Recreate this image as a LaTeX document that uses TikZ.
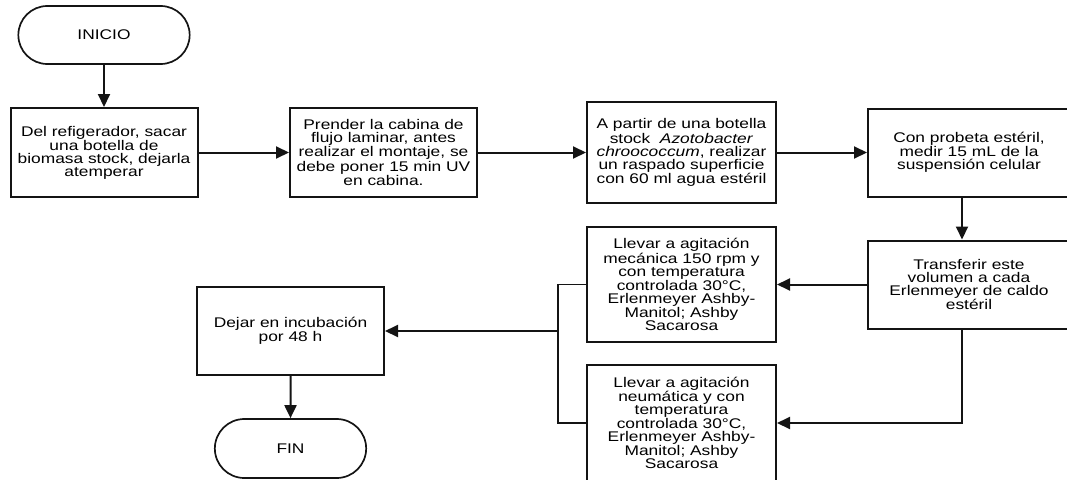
\documentclass[tikz,border=0pt]{standalone}
\usepackage{fontspec}
\setmainfont[FakeStretch=1.24]{Liberation Sans}
\usepackage{tikz}
\usetikzlibrary{arrows.meta,shapes.misc,positioning}
\usepackage{xcolor}
\definecolor{fcline}{RGB}{20,20,20}
\tikzstyle{paso} = [draw=fcline, line width=2pt, rectangle, align=center, inner sep=2pt, font=\fontsize{14}{13}\selectfont]
\tikzstyle{terminal} = [draw=fcline, line width=1.7pt, rounded rectangle, align=center, font=\fontsize{14}{13}\selectfont]
\tikzstyle{arrow} = [line width=2pt, color=fcline, -{Triangle[length=13pt,width=12pt]}]
\tikzstyle{linea} = [line width=1.8pt, color=fcline]

\begin{document}
\begin{tikzpicture}[x=1pt, y=-1pt]
\useasboundingbox (0,0) rectangle (1067,479);
\clip (0,0) rectangle (1067,479);

% Inicio
\node[terminal, minimum width=178, minimum height=58] (inicio) at (104,35) {INICIO};

% Fila superior
\node[paso, minimum width=187, minimum height=89] (paso1) at (104,152.5) {Del refigerador, sacar\\una botella de\\biomasa stock, dejarla\\atemperar};
\node[paso, minimum width=187, minimum height=89] (paso2) at (383.5,152.5) {Prender la cabina de\\flujo laminar, antes\\realizar el montaje, se\\debe poner 15 min UV\\en cabina.};
\node[paso, minimum width=189, minimum height=101] (paso3) at (681.5,152.5) {A partir de una botella\\stock \ \textit{Azotobacter}\\\textit{chroococcum}, realizar\\un raspado superficie\\con 60 ml agua estéril};
\node[paso, minimum width=202, minimum height=88] (paso4) at (969,152.5) {Con probeta estéril,\\medir 15 mL de la\\suspensión celular};

% Columna derecha
\node[paso, minimum width=202, minimum height=88] (paso5) at (969,284.5) {Transferir este\\volumen a cada\\Erlenmeyer de caldo\\estéril};

% Agitacion
\node[paso, minimum width=189, minimum height=115] (paso6) at (681.5,284.5) {Llevar a agitación\\mecánica 150 rpm y\\con temperatura\\controlada 30°C,\\Erlenmeyer Ashby-\\Manitol; Ashby\\Sacarosa};
\node[paso, minimum width=189, minimum height=116] (paso7) at (681.5,423) {Llevar a agitación\\neumática y con\\temperatura\\controlada 30°C,\\Erlenmeyer Ashby-\\Manitol; Ashby\\Sacarosa};

% Incubacion y fin
\node[paso, minimum width=187, minimum height=88] (paso8) at (290.5,331) {Dejar en incubación\\por 48 h};
\node[terminal, minimum width=158, minimum height=59] (fin) at (290.5,448.5) {FIN};
\coordinate (union) at (558,331);

% Flechas
\draw[arrow] (inicio.south) -- (inicio.south |- paso1.north);
\draw[arrow] (paso1) -- (paso2);
\draw[arrow] (paso2) -- (paso3);
\draw[arrow] (paso3) -- (paso4);
\draw[arrow] ([xshift=-7pt]paso4.south) -- ([xshift=-7pt]paso5.north);
\draw[arrow] (paso5) -- (paso6);
\draw[arrow] ([xshift=-7pt]paso5.south) |- (paso7.east);
\draw[linea] (paso6.west) -| (union) |- (paso7.west);
\draw[arrow] (union) -- (paso8);
\draw[arrow] (paso8) -- (fin);
\end{tikzpicture}
\end{document}
